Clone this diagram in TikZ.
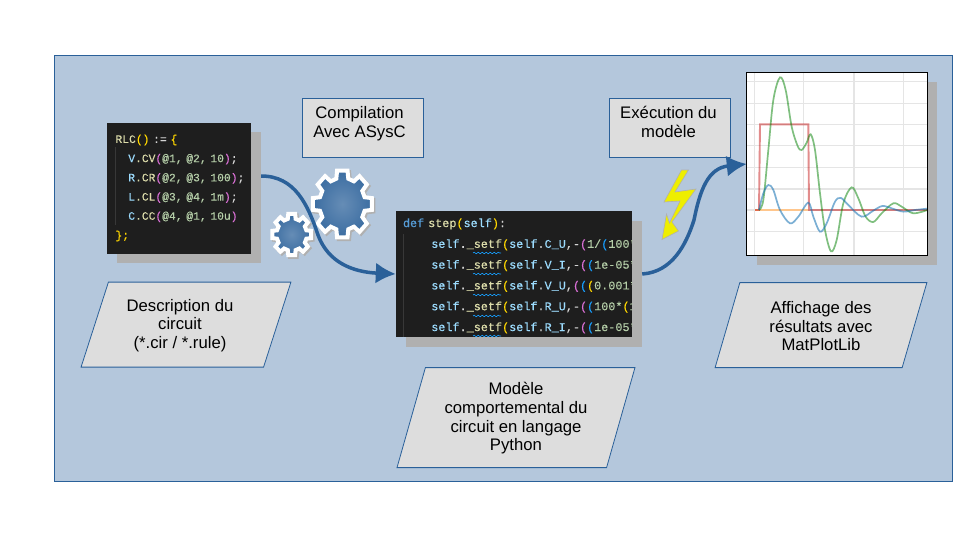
\documentclass[tikz,border=0pt]{standalone}
\usepackage{fontspec}
\setmainfont{Liberation Sans}
\setmonofont[FakeBold=0.2]{Liberation Mono}
\usetikzlibrary{positioning, arrows.meta, shapes.geometric, decorations.pathmorphing}

\definecolor{panelblue}{HTML}{B4C7DC}
\definecolor{edgeblue}{HTML}{2A6099}
\definecolor{labelgray}{HTML}{DDDDDD}
\definecolor{shadowgray}{HTML}{B0B0B0}
\definecolor{boltyellow}{HTML}{EEEE00}
\definecolor{codebg}{HTML}{1E1E1E}
\definecolor{codeblue}{HTML}{9CDCFE}
\definecolor{codeyellow}{HTML}{DCDCAA}
\definecolor{codegold}{HTML}{FFD700}
\definecolor{codepink}{HTML}{DA70D6}
\definecolor{codeparen}{HTML}{179FFF}
\definecolor{codenum}{HTML}{B5CEA8}
\definecolor{codetext}{HTML}{D4D4D4}
\definecolor{codekey}{HTML}{569CD6}

\newcommand{\cB}[1]{\textcolor{codeblue}{#1}}
\newcommand{\cY}[1]{\textcolor{codeyellow}{#1}}
\newcommand{\cG}[1]{\textcolor{codegold}{#1}}
\newcommand{\cM}[1]{\textcolor{codepink}{#1}}
\newcommand{\cP}[1]{\textcolor{codeparen}{#1}}
\newcommand{\cN}[1]{\textcolor{codenum}{#1}}
\newcommand{\cW}[1]{\textcolor{codetext}{#1}}
\newcommand{\setfcall}[1]{\hspace*{28.3pt}\cB{self}\cW{.}\cY{\_setf}\cG{(}\cB{self}\cW{.}\cB{#1}\cW{,}}
\newcommand{\rlcline}[3]{\mbox{\hspace*{12.8pt}\cB{#1}\cY{#2}\cM{(}\cN{#3}\cM{)}}}
\newcommand{\topline}{\rule{0pt}{14pt}}

% cog: centre x, centre y, radius x, radius y
\newcommand{\cogwheel}[4]{
  \begin{scope}[shift={(#1,#2)}, x=#3pt, y=#4pt]
    \draw[cogshadow, shift={(1.6pt,-1.6pt)}] (-10:1) \foreach \a in {0,45,...,315} {-- (\a-10:1) -- (\a+10:1) -- (\a+15:0.77) -- (\a+30:0.77)} -- cycle;
    \shadedraw[cogface] (-10:1) \foreach \a in {0,45,...,315} {-- (\a-10:1) -- (\a+10:1) -- (\a+15:0.77) -- (\a+30:0.77)} -- cycle;
  \end{scope}
}

\begin{document}
\begin{tikzpicture}[
  x=1pt, y=-1pt,
  >=Latex,
  every node/.style={font=\fontsize{16.7}{18.6}\selectfont},
  panel/.style={draw=edgeblue, fill=panelblue, line width=0.8pt, minimum width=898pt, minimum height=426pt, inner sep=0pt},
  titlebox/.style={draw=edgeblue, fill=labelgray, line width=0.8pt, align=center, minimum width=121pt, minimum height=59pt, inner sep=0pt},
  para/.style={draw=edgeblue, fill=labelgray, line width=0.8pt, trapezium, trapezium left angle=73, trapezium right angle=107, trapezium stretches=true, align=center, inner sep=0pt},
  dropbox/.style={fill=shadowgray, inner sep=0pt},
  codebox/.style={fill=codebg, inner sep=0pt, align=left},
  cogshadow/.style={draw=shadowgray, fill=shadowgray, line width=4pt},
  cogface/.style={draw=white, inner color=edgeblue!72!white, outer color=edgeblue!92!white, line width=4pt},
  flow/.style={draw=edgeblue, line width=3.5pt, -{Latex[length=20pt,width=21pt]}},
  squiggle/.style={draw=codeparen, line width=0.6pt, decorate, decoration={snake, amplitude=0.8pt, segment length=4pt}},
  gridline/.style={draw=black!10, line width=1.5pt},
  curve/.style={line width=1.7pt, smooth, tension=0.55}
]
\useasboundingbox (0,0) rectangle (966,538);

% Background panel
\node[panel] (back) at (503,268) {};

% Titles
\node[titlebox] (compil) at (362.5,127.5) {\hspace*{-6pt}Compilation\\\hspace*{-6pt}Avec ASysC\rule[-11pt]{0pt}{11pt}};
\node[titlebox] (exec) at (669.5,127.5) {\hspace*{-2pt}Exécution du\\\hspace*{-2pt}modèle\rule[-11pt]{0pt}{11pt}};

% Circuit description
\node[dropbox, minimum width=144pt, minimum height=131pt] (rlcshadow) at (189,197.5) {};
\node[codebox, font=\ttfamily\fontsize{11.3}{19.2}\selectfont, text width=127pt, minimum height=131pt, inner xsep=8.5pt] (rlc) at ([shift={(-10pt,9.5pt)}]rlcshadow.center) {%
  \cY{RLC}\cG{()} \cW{:=} \cG{\{}\\
  \rlcline{V}{.CV}{@1, @2, 10}\cW{;}\\
  \rlcline{R}{.CR}{@2, @3, 100}\cW{;}\\
  \rlcline{L}{.CL}{@3, @4, 1m}\cW{;}\\
  \rlcline{C}{.CC}{@4, @1, 10u}\\
  \cG{\};}};
\draw[black!78, line width=0.6pt] ([shift={(8.5pt,-25pt)}]rlc.north west) -- ([shift={(8.5pt,29pt)}]rlc.south west);
\node[para, minimum width=210pt, minimum height=85pt, below=28pt of rlc, xshift=7pt] (rlclabel) {\topline\hspace*{-12pt}Description du\\\hspace*{-12pt}circuit\\\hspace*{-12pt}(*.cir / *.rule)};

% Python model
\node[dropbox, minimum width=236pt, minimum height=126pt] (stepshadow) at (524,284) {};
\begin{scope}
  \clip (396,211) rectangle (632,337);
  \node[codebox, font=\ttfamily\fontsize{11.8}{20.8}\selectfont, text width=222pt, minimum height=126pt, inner xsep=7pt] (step) at ([shift={(-10pt,10pt)}]stepshadow.center) {%
    \rule{0pt}{12.5pt}\textcolor{codekey}{def} \cY{step}\cG{(}\cB{self}\cG{)}\cW{:}\\
    \setfcall{C\_U}\cW{-}\cM{(}\cN{1/}\cP{(}\cN{100*}\\
    \setfcall{V\_I}\cW{-}\cM{(}\cP{(}\cN{1e-05*}\\
    \setfcall{V\_U}\cM{(}\cP{(}\cG{(}\cN{0.001*}\\
    \setfcall{R\_U}\cW{-}\cM{(}\cP{(}\cN{100*}\cG{(}\cN{1}\\
    \setfcall{R\_I}\cW{-}\cM{(}\cP{(}\cN{1e-05*}};
  \foreach \y in {253,274,295,316,336}
    \draw[squiggle] (473,\y) -- (501,\y);
  \draw[black!78, line width=0.6pt] (403.5,234) -- (403.5,337);
\end{scope}
\node[para, minimum width=238pt, minimum height=100pt, below=30pt of step, xshift=2pt] (steplabel) {\topline Modèle\\comportemental du\\circuit en langage\\Python};

% Results
\node[dropbox, minimum width=180pt, minimum height=183pt] (plotshadow) at (847,173.5) {};
\node[fill=white, minimum width=180pt, minimum height=182pt, inner sep=0pt] (plot) at ([shift={(-10pt,9.5pt)}]plotshadow.center) {};
\begin{scope}
  \clip (plot.north west) rectangle (plot.south east);
  \foreach \y in {81.7,103.3,124.3,145.7,167.3,189,210,231.3}
    \draw[gridline] (746,\y) -- (928,\y);
  \foreach \x in {754.3,803.3,854,903.3}
    \draw[gridline] (\x,73) -- (\x,255);
  \begin{scope}[shift={(745,70)}, x=0.3333pt, y=-0.3333pt]
    \draw[orange!45, line width=1.6pt] (30,420) -- (190,420);
    \draw[red!75!black, opacity=0.45, line width=1.9pt] (30,420) -- (42,420) -- (45,163) -- (190,163) -- (192,420) -- (547,420);
    \draw[curve, draw=green!50!black, opacity=0.5] plot coordinates {(42,420) (55,390) (70,240) (85,90) (105,22) (122,60) (140,170) (158,228) (170,240) (185,218) (197,193) (210,240) (225,370) (240,480) (258,544) (275,510) (295,400) (320,352) (340,385) (362,440) (385,456) (410,430) (445,400) (470,410) (505,430) (547,420)};
    \draw[curve, draw=codeparen!70!black, opacity=0.55] plot coordinates {(42,420) (55,370) (70,345) (85,360) (105,420) (135,460) (160,440) (190,398) (205,440) (225,485) (245,460) (270,395) (288,384) (310,405) (350,440) (385,422) (412,408) (440,415) (475,425) (510,420) (547,416)};
  \end{scope}
\end{scope}
\draw[black, line width=1.1pt] (plot.north west) rectangle (plot.south east);
\node[para, minimum width=212pt, minimum height=85pt, below=27pt of plot, xshift=-16pt] (plotlabel) {\topline Affichage des\\résultats avec\\MatPlotLib};

% Cogs and bolt
\cogwheel{342.3}{204}{30}{34}
\cogwheel{291.7}{234.5}{19.7}{21}
\filldraw[fill=boltyellow, draw=shadowgray, line width=0.6pt] (681.5,170) -- (688.5,170) -- (675,192) -- (696,189) -- (672,222) -- (678.5,231) -- (662,239.5) -- (666.5,214) -- (669.5,223) -- (680,201) -- (664,202) -- cycle;

% Arrows
\draw[flow] ([yshift=21.5pt]rlcshadow.east) .. controls (295,176) and (308,205) .. (318,235) .. controls (328,262) and (352,272) .. (step.west);
\draw[flow] ([yshift=10pt]stepshadow.east) .. controls (672,272) and (686,245) .. (694,220) .. controls (700,190) and (708,168) .. (plot.west);

\end{tikzpicture}
\end{document}
